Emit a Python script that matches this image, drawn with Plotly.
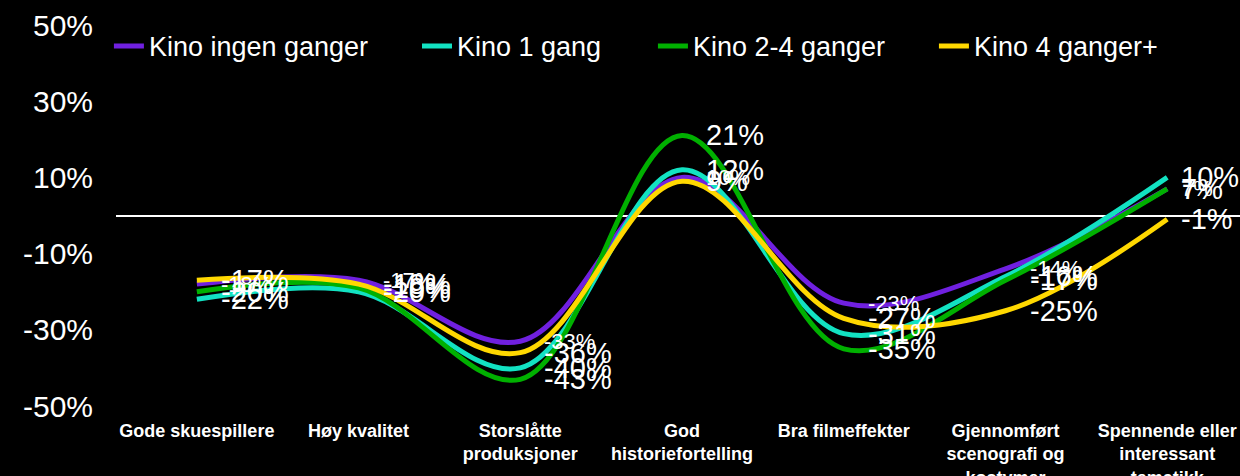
import plotly.graph_objects as go

categories = [
    "Gode skuespillere",
    "Høy kvalitet",
    "Storslåtte<br>produksjoner",
    "God<br>historiefortelling",
    "Bra filmeffekter",
    "Gjennomført<br>scenografi og<br>kostymer",
    "Spennende eller<br>interessant<br>tematikk",
]

series_names = ["Kino ingen ganger", "Kino 1 gang", "Kino 2-4 ganger", "Kino 4 ganger+"]
kino_ingen = [-18, -17, -33, 10, -23, -14, 7]
kino_1 = [-22, -20, -40, 12, -31, -16, 10]
kino_2_4 = [-20, -19, -43, 21, -35, -17, 7]
kino_4_pluss = [-17, -18, -36, 9, -27, -25, -1]

y_ticks = [-50, -30, -10, 10, 30, 50]
y_tick_labels = ["-50%", "-30%", "-10%", "10%", "30%", "50%"]

colors = ["#7020E0", "#12E2C2", "#00B000", "#FFD800"]
label_sizes = [22, 29, 29, 29]
legend_ids = ["legend", "legend2", "legend3", "legend4"]
legend_x = [-0.0063, 0.2678, 0.4777, 0.7277]
all_series = [kino_ingen, kino_1, kino_2_4, kino_4_pluss]

FONT = "Liberation Sans, Arial, sans-serif"

fig = go.Figure()
annotations = []
for name, vals, col, lsz, lid in zip(series_names, all_series, colors, label_sizes, legend_ids):
    fig.add_trace(go.Scatter(
        x=categories, y=vals, name=name, mode="lines",
        line=dict(color=col, width=5, shape="spline", smoothing=1.0),
        hoverinfo="skip", legend=lid,
    ))
    for i, (c, v) in enumerate(zip(categories, vals)):
        annotations.append(dict(
            x=c, y=v, xref="x", yref="y", text=f"{v}%", showarrow=False,
            xanchor="left", yanchor="middle",
            xshift=12 if i == len(categories) - 1 else 22,
            font=dict(family=FONT, size=lsz, color="white"),
        ))

legend_layouts = {}
for lid, lx in zip(legend_ids, legend_x):
    legend_layouts[lid] = dict(
        orientation="h", x=lx, xanchor="left", y=0.944, yanchor="middle",
        font=dict(family=FONT, size=27, color="white"), bgcolor="rgba(0,0,0,0)",
    )

fig.update_layout(
    width=1240, height=476,
    paper_bgcolor="black", plot_bgcolor="black",
    margin=dict(l=116, r=0, t=25, b=70, autoexpand=False),
    font=dict(family=FONT, color="white"),
    showlegend=True,
    annotations=annotations,
    **legend_layouts,
)
fig.update_xaxes(
    type="category", range=[-0.5, 6.45], showgrid=False, zeroline=False,
    showline=False, ticks="", automargin=False,
    tickfont=dict(family=FONT, size=18, color="white", weight="bold"),
    ticklabelstandoff=12,
)
fig.update_yaxes(
    range=[-50, 50], tickvals=y_ticks, ticktext=y_tick_labels,
    showgrid=False, showline=False, ticks="", automargin=False,
    zeroline=True, zerolinecolor="white", zerolinewidth=2,
    tickfont=dict(family=FONT, size=30, color="white"),
    ticklabelstandoff=22,
)

fig.write_html(
    "out.html",
    config={"displayModeBar": False},
    post_script="document.body.style.margin='0';document.body.style.overflow='hidden';",
)
